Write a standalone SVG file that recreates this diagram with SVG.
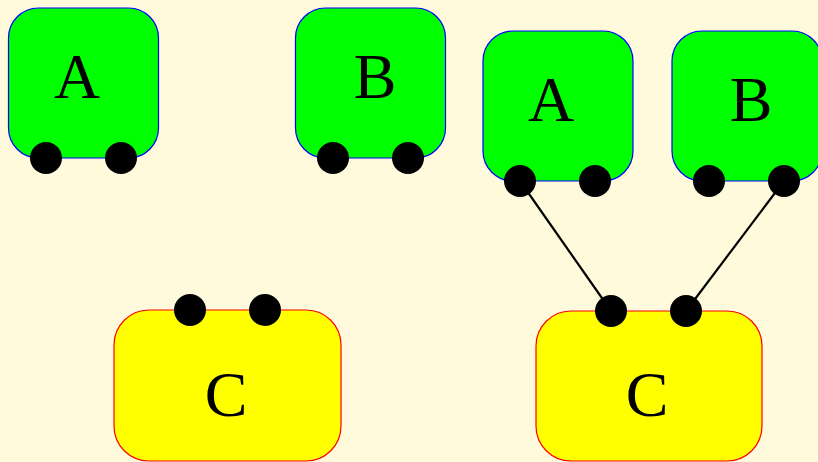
<svg xmlns="http://www.w3.org/2000/svg" width="818" height="462" viewBox="0 0 818 462">
<style>
.g{fill:#00ff00;stroke:#0000ff;stroke-width:1.2}
.y{fill:#ffff00;stroke:#ff0000;stroke-width:1.2}
.p{fill:#000}
.t{font-family:"Liberation Serif","Times New Roman",serif;font-size:64px;fill:#000;text-anchor:middle}
.c{stroke:#000;stroke-width:2.2;fill:none}
</style>
<rect width="818" height="462" fill="#fffadc"/>
<g id="connectors">
<line class="c" x1="520" y1="181" x2="611" y2="311"/>
<line class="c" x1="784" y1="181" x2="686" y2="311"/>
</g>
<g id="A1">
<rect class="g" x="8.5" y="8" width="150" height="150" rx="30"/>
<text class="t" x="77" y="98">A</text>
<circle class="p" cx="46" cy="158" r="16"/>
<circle class="p" cx="121" cy="158" r="16"/>
</g>
<g id="B1">
<rect class="g" x="295.5" y="8" width="150" height="150" rx="30"/>
<text class="t" x="375" y="98">B</text>
<circle class="p" cx="333" cy="158" r="16"/>
<circle class="p" cx="408" cy="158" r="16"/>
</g>
<g id="A2">
<rect class="g" x="483" y="31" width="150" height="150" rx="30"/>
<text class="t" x="551" y="121">A</text>
<circle class="p" cx="520" cy="181" r="16"/>
<circle class="p" cx="595" cy="181" r="16"/>
</g>
<g id="B2">
<rect class="g" x="672" y="31" width="150" height="150" rx="30"/>
<text class="t" x="751" y="121">B</text>
<circle class="p" cx="709" cy="181" r="16"/>
<circle class="p" cx="784" cy="181" r="16"/>
</g>
<g id="C1">
<rect class="y" x="114" y="310" width="227" height="151" rx="35"/>
<text class="t" x="226" y="416">C</text>
<circle class="p" cx="190" cy="310" r="16"/>
<circle class="p" cx="265" cy="310" r="16"/>
</g>
<g id="C2">
<rect class="y" x="536" y="311" width="226" height="150" rx="35"/>
<text class="t" x="647" y="416">C</text>
<circle class="p" cx="611" cy="311" r="16"/>
<circle class="p" cx="686" cy="311" r="16"/>
</g>
</svg>
